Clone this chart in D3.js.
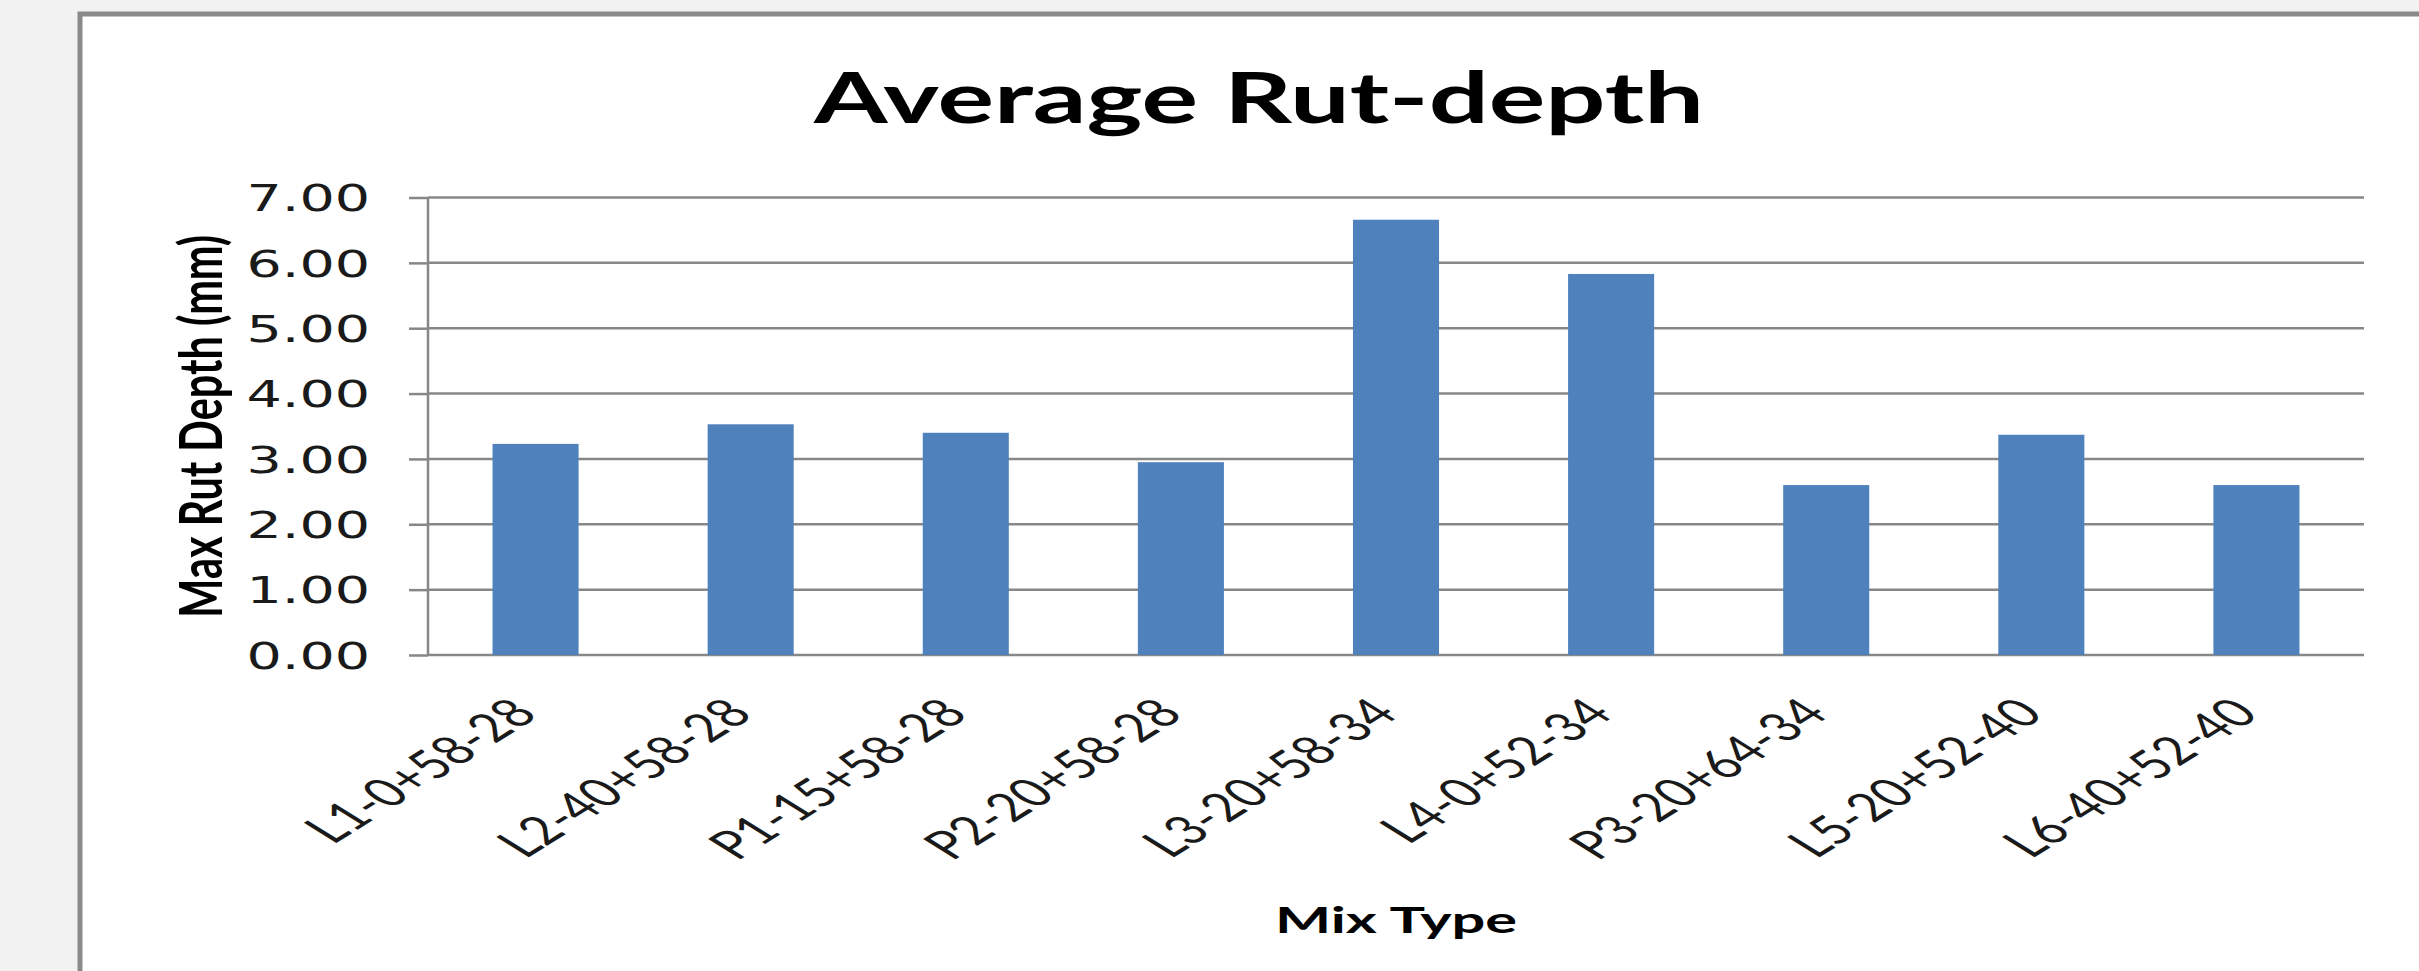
<!DOCTYPE html>
<html>
<head>
<meta charset="utf-8">
<script src="https://cdn.jsdelivr.net/npm/d3@7"></script>
<style>
  body { margin: 0; background: #f2f2f2; }
  svg { display: block; }
</style>
</head>
<body>
<div id="chart"></div>
<script>
// chart values
const mixTypes = ["L1-0+58-28", "L2-40+58-28", "P1-15+58-28", "P2-20+58-28", "L3-20+58-34",
                  "L4-0+52-34", "P3-20+64-34", "L5-20+52-40", "L6-40+52-40"];
const rutDepth = [3.23, 3.53, 3.40, 2.95, 6.66, 5.83, 2.60, 3.37, 2.60];
const yTicks = [0, 1, 2, 3, 4, 5, 6, 7];

const svgWidth = 2419;
const svgHeight = 971;
const stretch = 1.5;      // the picture is wider than tall, text is stretched sideways
const labelStretch = 1.6; // rotated labels look a bit flatter

const margin = { top: 197.5, left: 428, right: 55, bottom: 316 };
const width = svgWidth - margin.left - margin.right;
const height = svgHeight - margin.top - margin.bottom;

const svg = d3.select("#chart")
  .append("svg")
  .attr("width", svgWidth)
  .attr("height", svgHeight);

// chart frame
svg.append("rect")
  .attr("x", 80).attr("y", 14)
  .attr("width", svgWidth).attr("height", svgHeight)
  .attr("fill", "#ffffff")
  .attr("stroke", "#8a8a8a")
  .attr("stroke-width", 5);

// title
svg.append("text")
  .attr("x", 1259).attr("y", 123)
  .attr("text-anchor", "middle")
  .attr("font-family", "Lato")
  .attr("font-weight", "bold")
  .attr("font-size", 70)
  .attr("textLength", 890)
  .attr("lengthAdjust", "spacingAndGlyphs")
  .text("Average Rut-depth");

const chart = svg.append("g")
  .attr("transform", `translate(${margin.left}, ${margin.top})`);

const xScale = d3.scaleBand()
  .domain(mixTypes)
  .range([0, width])
  .paddingInner(0.6)
  .paddingOuter(0.3);

const yScale = d3.scaleLinear()
  .domain([0, 7])
  .range([height, 0]);

// gridlines
chart.append("g")
  .selectAll("line")
  .data(yTicks)
  .enter()
  .append("line")
  .attr("x1", 0)
  .attr("x2", width)
  .attr("y1", d => yScale(d))
  .attr("y2", d => yScale(d))
  .attr("stroke", "#878787")
  .attr("stroke-width", 2.5);

// bars
chart.selectAll(".bar")
  .data(mixTypes)
  .enter()
  .append("rect")
  .attr("class", "bar")
  .attr("fill", "#4f81bd")
  .attr("x", d => xScale(d))
  .attr("y", (d, i) => yScale(rutDepth[i]))
  .attr("width", xScale.bandwidth())
  .attr("height", (d, i) => height - yScale(rutDepth[i]));

// y axis
const yAxis = chart.append("g")
  .call(d3.axisLeft(yScale)
    .tickValues(yTicks)
    .tickSize(19)
    .tickPadding(39)
    .tickFormat(d3.format(".2f")));

yAxis.select(".domain").remove();
yAxis.append("line")
  .attr("x1", 0).attr("x2", 0)
  .attr("y1", 0).attr("y2", height)
  .attr("stroke", "#878787")
  .attr("stroke-width", 2.5);
yAxis.selectAll(".tick line")
  .attr("stroke", "#878787")
  .attr("stroke-width", 2.5);
yAxis.selectAll(".tick text")
  .attr("x", -58 / stretch)
  .attr("dy", "0.36em")
  .attr("transform", `scale(${stretch},1)`)
  .attr("font-family", "DejaVu Sans")
  .attr("font-size", 37)
  .attr("fill", "#1a1a1a");

// x axis labels, rotated
const xAxis = chart.append("g")
  .attr("transform", `translate(0, ${height})`)
  .call(d3.axisBottom(xScale).tickSize(0).tickPadding(0));

xAxis.select(".domain").remove();
xAxis.selectAll(".tick text")
  .attr("y", null)
  .attr("dy", null)
  .style("text-anchor", "end")
  .attr("transform", `translate(4, 61) scale(${labelStretch},1) rotate(-45)`)
  .attr("font-family", "Lato")
  .attr("font-size", 40)
  .attr("fill", "#1a1a1a")
  .each(function () {
    // squeeze a little, the original face is narrower
    const len = this.getComputedTextLength();
    d3.select(this)
      .attr("textLength", len * 0.86)
      .attr("lengthAdjust", "spacingAndGlyphs");
  });

// axis titles
svg.append("text")
  .attr("transform", `translate(222, ${margin.top + height / 2}) scale(${stretch},1) rotate(-90)`)
  .attr("text-anchor", "middle")
  .attr("font-family", "Lato")
  .attr("font-weight", "bold")
  .attr("font-size", 39)
  .attr("textLength", 383)
  .attr("lengthAdjust", "spacingAndGlyphs")
  .text("Max Rut Depth (mm)");

svg.append("text")
  .attr("x", margin.left + width / 2)
  .attr("y", 933)
  .attr("text-anchor", "middle")
  .attr("font-family", "Lato")
  .attr("font-weight", "bold")
  .attr("font-size", 37)
  .attr("textLength", 242)
  .attr("lengthAdjust", "spacingAndGlyphs")
  .text("Mix Type");
</script>
</body>
</html>
